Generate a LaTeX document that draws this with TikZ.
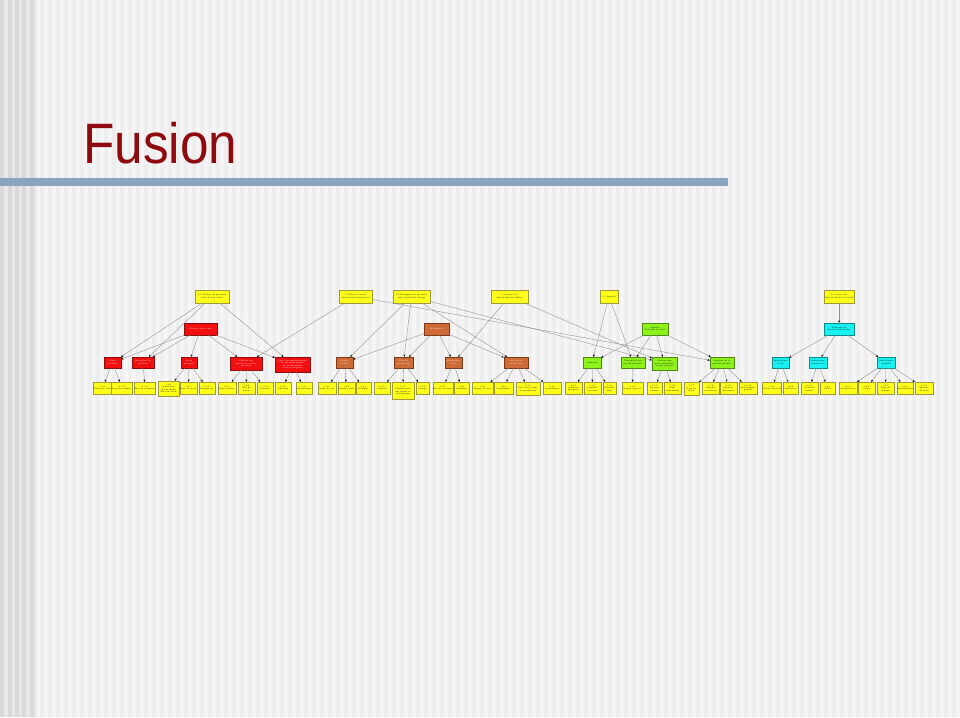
\documentclass[tikz,border=0pt]{standalone}
\usepackage{fontspec}
\newfontfamily\titlefont{Liberation Sans}
\usetikzlibrary{arrows.meta}
\definecolor{bgc}{HTML}{F5F5F5}
\definecolor{stripec}{HTML}{EEEEEE}
\definecolor{leftc}{HTML}{E8E8E8}
\definecolor{leftbar}{HTML}{D9D9D9}
\definecolor{barc}{HTML}{8BA5C1}
\definecolor{titlec}{HTML}{8E0A0E}
\definecolor{yelc}{HTML}{FFFF1A}
\definecolor{yelb}{HTML}{9C9C3C}
\definecolor{redc}{HTML}{F20F0F}
\definecolor{redb}{HTML}{8A1010}
\definecolor{brc}{HTML}{CD6A35}
\definecolor{brb}{HTML}{7A3A1A}
\definecolor{grc}{HTML}{8CF21A}
\definecolor{grb}{HTML}{4C8A10}
\definecolor{cyc}{HTML}{19F0F0}
\definecolor{cyb}{HTML}{108A8A}
\definecolor{edgec}{HTML}{8C8C8C}
\tikzset{
  nd/.style={rectangle, inner sep=0.2pt, align=center, line width=0.3pt,
    font=\fontsize{2}{2.4}\selectfont},
  yel/.style={nd, fill=yelc, draw=yelb, text=black},
  rd/.style={nd, fill=redc, draw=redb, text=white},
  br/.style={nd, fill=brc, draw=brb, text=white},
  gr/.style={nd, fill=grc, draw=grb, text=black},
  cy/.style={nd, fill=cyc, draw=cyb, text=black},
  sz/.style 2 args={minimum width=#1pt, minimum height=#2pt},
  e/.style={draw=edgec, line width=0.35pt, -{Stealth[length=2.4pt,width=2pt,black]}}
}
\begin{document}
\begin{tikzpicture}[x=1pt,y=-1pt]
\useasboundingbox (0,0) rectangle (960,717);
% background
\fill[bgc] (0,0) rectangle (960,717);
\foreach \x in {40,48,...,956} \fill[stripec] (\x,0) rectangle ++(4,717);
\fill[leftc] (0,0) rectangle (37,717);
\foreach \x in {0,8,15,22,30} \fill[leftbar] (\x,0) rectangle ++(4,717);
% title and bar
\fill[barc] (0,178) rectangle (728,186);
\node[anchor=base west, inner sep=0, text=titlec, font=\titlefont\fontsize{57}{57}\selectfont] (title) at (83,163) {\scalebox{0.9}[1]{Fusion}};

% top row
\node[yel, sz={34}{13}] (T1) at (212,296.5) {1.1 Stocker les produits\\ dans le bon ordre};
\node[yel, sz={33}{13}] (T2) at (355.5,296.5) {1.2 Gérer le stock\\ des matières premières};
\node[yel, sz={37}{13}] (T3) at (411.5,296.5) {1.3 Fabriquer les produits\\ selon le plan de charge};
\node[yel, sz={37}{13}] (T4) at (509.5,296.5) {1.4 Livrer les\\ clients dans les délais};
\node[yel, sz={18}{13}] (T5) at (609,296.5) {1.5 Qualité};
\node[yel, sz={30}{13}] (T6) at (839,296.5) {1.6 Suivre les\\ indicateurs de l'activité};
% second row
\node[rd, sz={33}{12}] (S1) at (200.5,329) {Gestion des stocks};
\node[br, sz={25}{12}] (S2) at (436.5,329) {Production};
\node[gr, sz={26}{12}] (S3) at (655,329) {Qualité\\ Contrôle et suivi};
\node[cy, sz={30}{12}] (S4) at (839,329) {Tableaux de\\ bord et indicateurs};
% third row
\node[rd, sz={17}{11}] (R1) at (112.5,362.5) {Stock\\ matières};
\node[rd, sz={22}{11}] (R2) at (143,362.5) {Réception de\\ matières};
\node[rd, sz={16}{11}] (R3) at (189,362.5) {Stock\\ produits};
\node[rd, sz={32}{13}] (R4) at (246,363.5) {Gestion des\\ entrées et sorties\\ de stock};
\node[rd, sz={35}{15}] (R5) at (292.5,364.5) {Suivi des emplacements\\ et des mouvements\\ de marchandises\\ dans le magasin};
\node[br, sz={17}{11}] (B1) at (344.5,362.5) {Ordres\\ de fab.};
\node[br, sz={19}{11}] (B2) at (403.5,362.5) {Plan de\\ production};
\node[br, sz={17}{11}] (B3) at (453.5,362.5) {Expédition\\ client};
\node[br, sz={24}{11}] (B4) at (516,362.5) {Suivi de la\\ production};
\node[gr, sz={18}{11}] (G1) at (592,362.5) {Contrôle};
\node[gr, sz={24}{11}] (G2) at (633,362.5) {Traçabilité des\\ lots de produits};
\node[gr, sz={25}{13}] (G3) at (664.5,363.5) {Gestion des\\ non-conformités\\ et des retours};
\node[gr, sz={24}{11}] (G4) at (722,362.5) {Analyse de la\\ qualité produit};
\node[cy, sz={17}{11}] (C1) at (780.5,362.5) {Indicateurs\\ stock};
\node[cy, sz={18}{11}] (C2) at (818,362.5) {Indicateurs\\ production};
\node[cy, sz={18}{11}] (C3) at (886,362.5) {Indicateurs\\ qualité};
% leaves
\node[yel, sz={17}{12}] (l1) at (102.5,388) {1.1.1\\ Niveau de stock};
\node[yel, sz={18}{12}] (l2) at (122,388) {1.1.2\\ Seuil de réappro.};
\node[yel, sz={18}{12}] (l3) at (145,388) {1.1.3\\ Bon de réception};
\node[yel, sz={21}{15}] (l4) at (168.5,388.5) {1.1.4\\ Inventaire\\ des produits\\ finis en stock};
\node[yel, sz={17}{12}] (l5) at (188.5,388) {1.1.5\\ Zone de stock};
\node[yel, sz={16}{12}] (l6) at (207,388) {1.1.6\\ Etiquetage};
\node[yel, sz={18}{12}] (l7) at (227,388) {1.2.1\\ Bon d'entrée};
\node[yel, sz={17}{12}] (l8) at (246.5,388) {1.2.2\\ Bon de\\ sortie};
\node[yel, sz={16}{12}] (l9) at (265,388) {1.2.3\\ Transfert};
\node[yel, sz={16}{12}] (l10) at (283,388) {1.2.4\\ Adresses};
\node[yel, sz={16}{12}] (l11) at (304,388) {1.2.5\\ Mouvements};
\node[yel, sz={18}{12}] (l12) at (327,388) {1.3.1\\ Ordre de fab.};
\node[yel, sz={17}{12}] (l13) at (346.5,388) {1.3.2\\ Nomenclature};
\node[yel, sz={15}{12}] (l14) at (363.5,388) {1.3.3\\ Gammes};
\node[yel, sz={16}{12}] (l15) at (382,388) {1.3.4\\ Capacité};
\node[yel, sz={22}{17}] (l16) at (403,390.5) {1.3.5\\ Planification\\ des postes et\\ des équipes};
\node[yel, sz={13}{12}] (l17) at (422.5,388) {1.3.6\\ Charge};
\node[yel, sz={18}{12}] (l18) at (443,388) {1.4.1\\ Bon de livraison};
\node[yel, sz={15}{12}] (l19) at (461.5,388) {1.4.2\\ Transport};
\node[yel, sz={21}{12}] (l20) at (482.5,388) {1.4.3\\ Temps de cycle};
\node[yel, sz={19}{12}] (l21) at (503.5,388) {1.4.4\\ Rendement};
\node[yel, sz={24}{13}] (l22) at (528,388.5) {1.4.5\\ Suivi des temps\\ de production};
\node[yel, sz={18}{12}] (l23) at (552,388) {1.4.6\\ Avancement};
\node[yel, sz={17}{12}] (l24) at (573.5,388) {1.5.1\\ Contrôle\\ réception};
\node[yel, sz={17}{12}] (l25) at (592.5,388) {1.5.2\\ Contrôle\\ en cours};
\node[yel, sz={13}{12}] (l26) at (609.5,388) {1.5.3\\ Contrôle\\ final};
\node[yel, sz={21}{12}] (l27) at (632.5,388) {1.5.4\\ Numéros de lot};
\node[yel, sz={15}{12}] (l28) at (654.5,388) {1.5.5\\ Retours\\ clients};
\node[yel, sz={17}{12}] (l29) at (672.5,388) {1.5.6\\ Non-\\ conformités};
\node[yel, sz={15}{13}] (l30) at (691.5,388.5) {1.5.7\\ Taux de\\ rebut};
\node[yel, sz={17}{12}] (l31) at (710.5,388) {1.5.8\\ Actions\\ correctives};
\node[yel, sz={17}{12}] (l32) at (728.5,388) {1.5.9\\ Analyse\\ des causes};
\node[yel, sz={18}{12}] (l33) at (748,388) {1.5.10\\ Statistiques\\ qualité};
\node[yel, sz={18}{12}] (l34) at (772,388) {1.6.1\\ Valeur du stock};
\node[yel, sz={15}{12}] (l35) at (790.5,388) {1.6.2\\ Rotation};
\node[yel, sz={17}{12}] (l36) at (809.5,388) {1.6.3\\ Taux de\\ service};
\node[yel, sz={15}{12}] (l37) at (827.5,388) {1.6.4\\ Délais};
\node[yel, sz={18}{12}] (l38) at (848,388) {1.6.5\\ Productivité};
\node[yel, sz={17}{12}] (l39) at (866.5,388) {1.6.6\\ Coûts};
\node[yel, sz={17}{12}] (l40) at (885.5,388) {1.6.7\\ Taux de\\ défauts};
\node[yel, sz={16}{12}] (l41) at (905,388) {1.6.8\\ Réclamations};
\node[yel, sz={18}{12}] (l42) at (924,388) {1.6.9\\ Tableau\\ de bord};

% upper connectors
\draw[e] (T1) -- (R1);
\draw[e] (T1) -- (R2);
\draw[e] (T1) -- (R5);
\draw[e] (S1) -- (R1);
\draw[e] (S1) -- (R2);
\draw[e] (S1) -- (R3);
\draw[e] (S1) -- (R4);
\draw[e] (S1) -- (R5);
\draw[e] (T2) -- (R4);
\draw[e] (T2) -- (G4);
\draw[e] (T3) -- (B1);
\draw[e] (T3) -- (B2);
\draw[e] (T3) -- (B4);
\draw[e] (T3) -- (G3);
\draw[e] (S2) -- (B1);
\draw[e] (S2) -- (B2);
\draw[e] (S2) -- (B3);
\draw[e] (S2) -- (B4);
\draw[e] (T4) -- (B3);
\draw[e] (T4) -- (G3);
\draw[e] (T5) -- (G1);
\draw[e] (T5) -- (G2);
\draw[e] (S3) -- (G1);
\draw[e] (S3) -- (G2);
\draw[e] (S3) -- (G3);
\draw[e] (S3) -- (G4);
\draw[e] (T6) -- (S4);
\draw[e] (S4) -- (C1);
\draw[e] (S4) -- (C2);
\draw[e] (S4) -- (C3);
% lower connectors
\foreach \p/\c in {R1/l1,R1/l2,R2/l3,R3/l4,R3/l5,R3/l6,R4/l7,R4/l8,R4/l9,R5/l10,R5/l11,
  B1/l12,B1/l13,B1/l14,B2/l15,B2/l16,B2/l17,B3/l18,B3/l19,B4/l20,B4/l21,B4/l22,B4/l23,
  G1/l24,G1/l25,G1/l26,G2/l27,G3/l28,G3/l29,G4/l30,G4/l31,G4/l32,G4/l33,
  C1/l34,C1/l35,C2/l36,C2/l37,C3/l38,C3/l39,C3/l40,C3/l41,C3/l42}
  \draw[e] (\p) -- (\c);
\end{tikzpicture}
\end{document}
